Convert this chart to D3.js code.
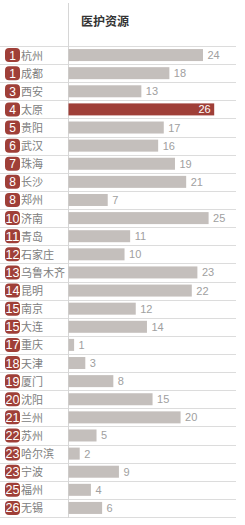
<!DOCTYPE html>
<html>
<head>
<meta charset="utf-8">
<script src="https://cdn.jsdelivr.net/npm/d3@7"></script>
<style>
	html, body { margin: 0; padding: 0; background: #fff; }
	svg { display: block; font-family: "Noto Sans CJK SC", "Noto Sans", sans-serif; }
</style>
</head>
<body>
<div id="chart"></div>
<script>
const title = '医护资源';
const ranks = [1, 1, 3, 4, 5, 6, 7, 8, 8, 10, 11, 12, 13, 14, 15, 15, 17, 18, 19, 20, 21, 22, 23, 23, 25, 26];
const cities = ['杭州', '成都', '西安', '太原', '贵阳', '武汉', '珠海', '长沙', '郑州', '济南', '青岛', '石家庄', '乌鲁木齐',
	'昆明', '南京', '大连', '重庆', '天津', '厦门', '沈阳', '兰州', '苏州', '哈尔滨', '宁波', '福州', '无锡'];
const values = [24, 18, 13, 26, 17, 16, 19, 21, 7, 25, 11, 10, 23, 22, 12, 14, 1, 3, 8, 15, 20, 5, 2, 9, 4, 6];
const highlight = '太原';

const width = 245;
const height = 525;

const rows = cities.map((c, i) => ({ city: c, rank: ranks[i], value: values[i] }));

const svg = d3.select('#chart').append('svg')
	.attr('width', width)
	.attr('height', height);

const x = d3.scaleLinear().domain([0, 26]).range([68, 213.7]);
const y = d3.scaleBand().domain(cities).range([46, 517]).padding(0);

// title
svg.append('text')
	.attr('x', 81)
	.attr('y', 26)
	.attr('font-size', 12)
	.attr('font-weight', 'bold')
	.attr('fill', '#333')
	.text(title);

// row separators
const seps = cities.map(c => y(c)).concat([y.range()[1]]);
svg.append('g')
	.selectAll('line')
	.data(seps)
	.join('line')
	.attr('x1', 0)
	.attr('x2', 236)
	.attr('y1', d => Math.round(d) + 0.5)
	.attr('y2', d => Math.round(d) + 0.5)
	.attr('stroke', '#dcdcdc')
	.attr('stroke-width', 1);

// vertical axis line
svg.append('line')
	.attr('x1', 68.5)
	.attr('x2', 68.5)
	.attr('y1', 3)
	.attr('y2', 518)
	.attr('stroke', '#d6d6d6');

const row = svg.append('g')
	.selectAll('g')
	.data(rows)
	.join('g')
	.attr('transform', d => `translate(0,${y(d.city)})`);

const mid = y.bandwidth() / 2;

row.append('rect')
	.attr('x', x(0) + 0.5)
	.attr('y', mid - 6)
	.attr('width', d => x(d.value) - x(0))
	.attr('height', 12)
	.attr('fill', d => d.city === highlight ? '#9f3f38' : '#c4bfbc');

row.append('text')
	.attr('x', d => d.city === highlight ? x(d.value) - 3 : x(d.value) + 5)
	.attr('y', mid + 4)
	.attr('text-anchor', d => d.city === highlight ? 'end' : 'start')
	.attr('font-size', 11)
	.attr('font-family', 'Liberation Sans, Arial, sans-serif')
	.attr('fill', d => d.city === highlight ? '#fff' : '#a0a0a0')
	.text(d => d.value);

// rank badges
row.append('rect')
	.attr('x', 5)
	.attr('y', mid - 7)
	.attr('width', 15)
	.attr('height', 14)
	.attr('rx', 4)
	.attr('fill', '#9f3f38');

row.append('text')
	.attr('x', 12.5)
	.attr('y', mid + 4.5)
	.attr('text-anchor', 'middle')
	.attr('font-size', 12)
	.attr('font-family', 'Liberation Sans, Arial, sans-serif')
	.attr('fill', '#fff')
	.attr('textLength', d => d.rank >= 10 ? 14 : null)
	.attr('lengthAdjust', 'spacingAndGlyphs')
	.text(d => d.rank);

row.append('text')
	.attr('x', 21)
	.attr('y', mid + 4.5)
	.attr('font-size', 11)
	.attr('fill', '#808080')
	.text(d => d.city);
</script>
</body>
</html>
